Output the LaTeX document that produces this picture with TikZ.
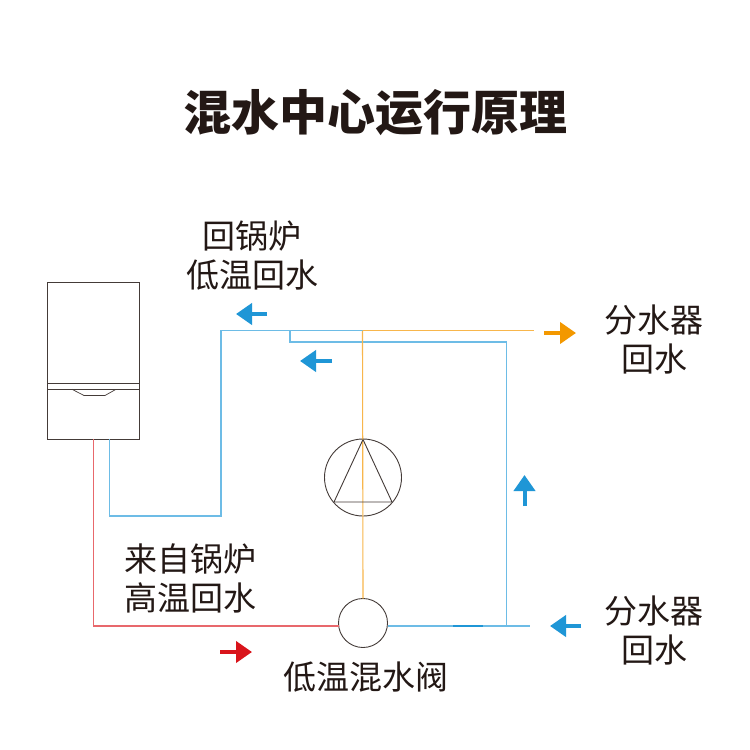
\documentclass[tikz,border=0pt]{standalone}
\usepackage{fontspec}
\setmainfont{Noto Sans CJK SC}
\definecolor{ink}{HTML}{231815}
\definecolor{pipeblue}{HTML}{6DBCE6}
\definecolor{arrowblue}{HTML}{1F96D6}
\definecolor{pipeorange}{HTML}{F8B64C}
\definecolor{arroworange}{HTML}{F39800}
\definecolor{pipered}{HTML}{E8686C}
\definecolor{arrowred}{HTML}{D9141B}
\tikzset{
  outline/.style={draw=ink!85,line width=0.9pt},
  bluepipe/.style={draw=pipeblue,line width=1.1pt},
  orangepipe/.style={draw=pipeorange,line width=1.1pt},
  redpipe/.style={draw=pipered,line width=1.1pt},
  flowarrow/.style={line width=4pt,-{Triangle[length=16pt,width=21pt]},shorten >=0pt},
  lbl/.style={text=ink,font=\fontsize{33}{39}\selectfont,align=center,inner sep=0pt},
  ttl/.style={text=ink,font=\bfseries\fontsize{48}{56}\selectfont,inner sep=0pt},
  pt/.style={inner sep=0pt,minimum size=0pt,outer sep=0pt}
}
\usetikzlibrary{arrows.meta}
\begin{document}
\begin{tikzpicture}[x=1pt,y=-1pt]
\useasboundingbox (0,0) rectangle (750,750);
\fill[white] (0,0) rectangle (750,750);
% title and labels
\node[ttl] (title) at (375,113) {混水中心运行原理};
\node[lbl] (backboiler) at (252,256) {回锅炉\\低温回水};
\node[lbl] (outr) at (654,340) {分水器\\回水};
\node[lbl] (fromboiler) at (190,578) {来自锅炉\\高温回水};
\node[lbl] (inr) at (654,631) {分水器\\回水};
\node[lbl] (valvelabel) at (366,677) {低温混水阀};
% boiler
\node[outline,draw,pt,minimum width=92.3pt,minimum height=157pt] (boiler) at (93.2,360.8) {};
\draw[outline] (boiler.west |- 0,383.7) -- (boiler.east |- 0,383.7);
\draw[outline] (boiler.west |- 0,389.3) -- (boiler.east |- 0,389.3);
\draw[outline,line width=0.7pt] (72,389.3) -- (84,395.5) -- (105,395.5) -- (116,389.3);
% pump and valve
\node[outline,draw,circle,pt,minimum size=77pt] (pump) at (363,477.5) {};
\node[outline,draw,circle,pt,minimum size=49pt,fill=white] (valve) at (363,623) {};
% junctions
\coordinate (a) at (109.3,439.3);
\coordinate (b) at (109.3,516);
\coordinate (c) at (221,516);
\coordinate (d) at (221,330.5);
\coordinate (e) at (362.5,330.5);
\coordinate (f) at (534,330.5);
\coordinate (g) at (290,330.5);
\coordinate (h) at (290,342);
\coordinate (i) at (506.5,342);
\coordinate (j) at (506.5,626);
\coordinate (k) at (530,626);
\coordinate (l) at (93.5,439.3);
\coordinate (m) at (93.5,626);
% pipes
\draw[bluepipe,line join=miter] (a) -- (b) -- (c) -- (d) -- (e);
\draw[bluepipe] (g) -- (h) -- (i) -- (j);
\draw[bluepipe] (valve.east |- k) -- (k);
\draw[draw=arrowblue,line width=1.1pt] (453,626) -- (483,626);
\draw[orangepipe] (e) -- (f);
\draw[orangepipe] (e) -- (valve.north);
\draw[redpipe] (l) -- (m) -- (valve.west |- m);
% triangle in pump
\draw[outline] (363,439.5) -- (334,502) -- (392,502) -- cycle;
% flow arrows
\coordinate (a1s) at (267,314); \coordinate (a1e) at (236,314);
\coordinate (a2s) at (332,361); \coordinate (a2e) at (300,361);
\coordinate (a3s) at (544,333); \coordinate (a3e) at (576,333);
\coordinate (a4s) at (524.5,506); \coordinate (a4e) at (524.5,475);
\coordinate (a5s) at (581,626); \coordinate (a5e) at (550,626);
\coordinate (a6s) at (220,652); \coordinate (a6e) at (252,652);
\draw[flowarrow,arrowblue] (a1s) -- (a1e);
\draw[flowarrow,arrowblue] (a2s) -- (a2e);
\draw[flowarrow,arroworange] (a3s) -- (a3e);
\draw[flowarrow,arrowblue] (a4s) -- (a4e);
\draw[flowarrow,arrowblue] (a5s) -- (a5e);
\draw[flowarrow,arrowred] (a6s) -- (a6e);
\end{tikzpicture}
\end{document}
